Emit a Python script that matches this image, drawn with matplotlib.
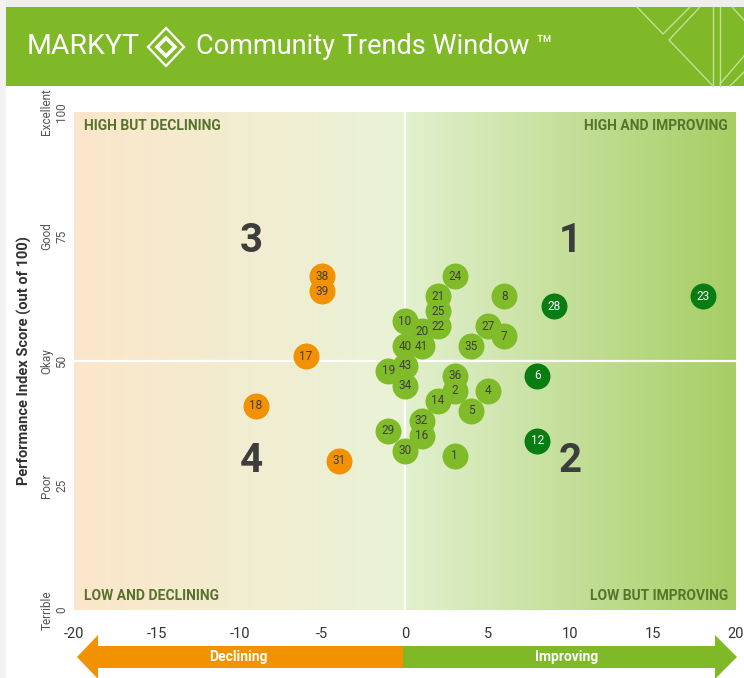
import numpy as np
import matplotlib
matplotlib.use('Agg')
import matplotlib.pyplot as plt
from matplotlib import font_manager
from matplotlib.patches import Polygon, Rectangle

# community points: id, change in score (x), performance index (y), trend group
ids = [38, 39, 17, 18, 31, 23, 28, 6, 12, 24, 8, 21, 25, 10, 22, 20, 27, 7,
       40, 41, 35, 43, 19, 34, 36, 2, 4, 14, 5, 32, 29, 16, 30, 1]
trend = [-5, -5, -6, -9, -4, 18, 9, 8, 8, 3, 6, 2, 2, 0, 2, 1, 5, 6,
         0, 1, 4, 0, -1, 0, 3, 3, 5, 2, 4, 1, -1, 1, 0, 3]
score = [67, 64, 51, 41, 30, 63, 61, 47, 34, 67, 63, 63, 60, 58, 57, 56, 57, 55,
         53, 53, 53, 49, 48, 45, 47, 44, 44, 42, 40, 38, 36, 35, 32, 31]
group = ['down'] * 5 + ['up'] * 4 + ['mid'] * 25

x_ticks = [-20, -15, -10, -5, 0, 5, 10, 15, 20]
y_ticks = [0, 25, 50, 75, 100]
y_names = ['Terrible', 'Poor', 'Okay', 'Good', 'Excellent']

quadrants = ['HIGH BUT DECLINING', 'HIGH AND IMPROVING', 'LOW AND DECLINING', 'LOW BUT IMPROVING']

fill = {'down': '#F39200', 'mid': '#80BC2A', 'up': '#0A7D12'}
ink = {'down': '#3f3f3f', 'mid': '#3f3f3f', 'up': 'white'}

names = {f.name for f in font_manager.fontManager.ttflist}
narrow = 'Liberation Sans Narrow' if 'Liberation Sans Narrow' in names else 'Roboto'
plt.rcParams['font.family'] = ['Roboto', 'DejaVu Sans']

fig = plt.figure(figsize=(7.44, 6.78), dpi=100)

# page layer in pixel coordinates (header + arrow)
bg = fig.add_axes([0, 0, 1, 1], zorder=0)
bg.set_xlim(0, 744)
bg.set_ylim(678, 0)
bg.axis('off')
bg.add_patch(Rectangle((0, 0), 744, 7, color='#eeeeee', lw=0))
bg.add_patch(Rectangle((0, 0), 6, 678, color='#f2f2f2', lw=0))
bg.add_patch(Rectangle((6, 7), 738, 79, color='#80B927', lw=0))

# decorative lines in the header corner
deco = [[(637, 7), (663, 34), (690, 7)],
        [(700, 7), (669, 40), (713, 86)],
        [(713, 7), (713, 86)], [(720, 7), (720, 86)],
        [(720, 84), (744, 56)], [(732, 7), (744, 20)], [(730, 86), (744, 72)]]
for seg in deco:
    xs, ys = zip(*seg)
    bg.plot(xs, ys, color='#c4df98', lw=1)

bg.text(27, 47, 'MARKYT', color='white', fontsize=20.5, fontweight='normal',
        va='center', ha='left')
bg.add_patch(Polygon([(166, 28), (184, 47), (166, 66), (148, 47)], closed=True,
                     fill=False, ec='white', lw=1.6))
bg.add_patch(Polygon([(166, 38), (175, 47), (166, 56), (157, 47)], closed=True,
                     fill=False, ec='white', lw=2.6))
bg.text(196, 47, 'Community Trends Window \u2122', color='white', fontsize=19.5,
        va='center', ha='left')

# declining / improving arrow
bg.add_patch(Polygon([(77, 657), (98, 635), (98, 646), (403, 646), (403, 668),
                      (98, 668), (98, 679)], closed=True, color='#F39200', lw=0))
bg.add_patch(Polygon([(403, 646), (715, 646), (715, 635), (737, 657), (715, 679),
                      (715, 668), (403, 668)], closed=True, color='#80B927', lw=0))
bg.text(238, 657, 'Declining', color='white', fontsize=10, fontweight='bold',
        family=narrow, ha='center', va='center')
bg.text(567, 657, 'Improving', color='white', fontsize=10, fontweight='bold',
        family=narrow, ha='center', va='center')

# main chart
ax = fig.add_axes([74 / 744, 68 / 678, 662 / 744, 498 / 678], zorder=1)
ax.set_xlim(-20, 20)
ax.set_ylim(0, 100)

left = np.linspace(np.array([252, 230, 203]), np.array([233, 243, 214]), 200) / 255
right = np.linspace(np.array([226, 240, 206]), np.array([166, 206, 100]), 200) / 255
ax.imshow(left[None, :, :], extent=[-20, 0, 0, 100], aspect='auto', zorder=0)
ax.imshow(right[None, :, :], extent=[0, 20, 0, 100], aspect='auto', zorder=0)
ax.axvline(0, color='white', lw=1.6, zorder=1)
ax.axhline(50, color='white', lw=1.6, zorder=1)

for i, x, y, g in zip(ids, trend, score, group):
    ax.scatter(x, y, s=350, color=fill[g], lw=0, zorder=3)
    ax.text(x, y, str(i), color=ink[g], fontsize=8.5, ha='center', va='center', zorder=4)

qcol = '#56732B'
ax.text(0.015, 0.985, quadrants[0], transform=ax.transAxes, ha='left', va='top',
        fontsize=10, fontweight='bold', color=qcol, family=narrow)
ax.text(0.988, 0.985, quadrants[1], transform=ax.transAxes, ha='right', va='top',
        fontsize=10, fontweight='bold', color=qcol, family=narrow)
ax.text(0.015, 0.015, quadrants[2], transform=ax.transAxes, ha='left', va='bottom',
        fontsize=10, fontweight='bold', color=qcol, family=narrow)
ax.text(0.988, 0.015, quadrants[3], transform=ax.transAxes, ha='right', va='bottom',
        fontsize=10, fontweight='bold', color=qcol, family=narrow)

for num, qx, qy in [('3', -9.3, 74), ('1', 10, 74), ('4', -9.3, 30), ('2', 10, 30)]:
    ax.text(qx, qy, num, fontsize=29, fontweight='bold', color='#3d3d3d',
            ha='center', va='center', zorder=2)

for s in ax.spines.values():
    s.set_visible(False)
ax.set_xticks(x_ticks)
ax.set_xticklabels([str(t) for t in x_ticks], family=narrow, fontsize=10.5, color='#333333')
ax.set_yticks(y_ticks)
ax.set_yticklabels([f'{n}\n{t}' for n, t in zip(y_names, y_ticks)], rotation=90,
                   va='center', ha='right', multialignment='center',
                   fontsize=8.5, color='#555555')
ax.tick_params(length=0)
ax.tick_params(axis='x', pad=12)
ax.tick_params(axis='y', pad=4)
ax.set_ylabel('Performance Index Score (out of 100)', fontsize=10.5,
              fontweight='bold', color='#333333', labelpad=6)

fig.savefig('out.png', dpi=100)
